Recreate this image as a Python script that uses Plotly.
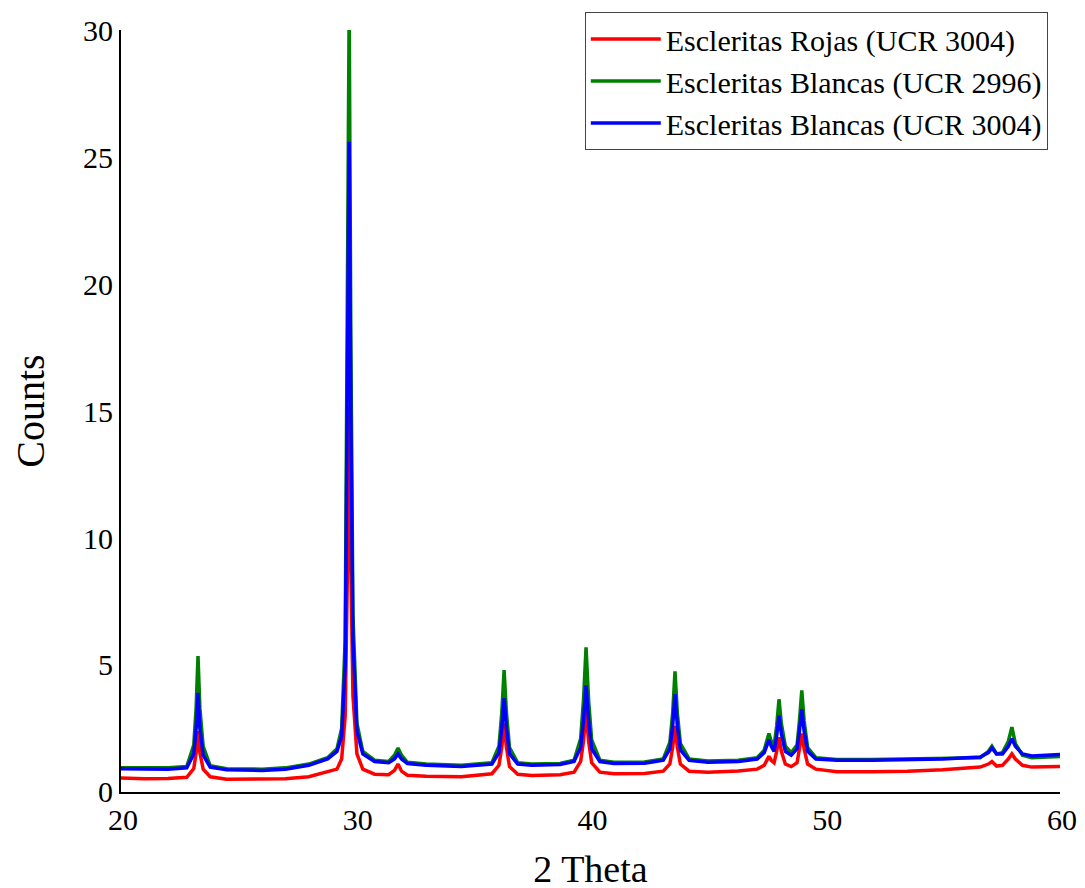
import plotly.graph_objects as go

# 2-theta positions (degrees)
two_theta = [20.0, 21.0, 22.0, 22.8, 23.1, 23.2, 23.28, 23.36, 23.5, 23.8,
             24.5, 26.0, 27.0, 28.0, 28.8, 29.2, 29.4, 29.55, 29.65, 29.72,
             29.79, 29.88, 30.05, 30.3, 30.8, 31.4, 31.65, 31.8, 31.95, 32.2,
             33.0, 34.5, 35.8, 36.1, 36.22, 36.32, 36.42, 36.55, 36.9, 37.5,
             38.7, 39.3, 39.58, 39.7, 39.81, 39.92, 40.05, 40.4, 41.0, 42.3,
             43.1, 43.38, 43.5, 43.6, 43.7, 43.83, 44.2, 45.0, 46.3, 47.1,
             47.4, 47.52, 47.6, 47.7, 47.82, 47.93, 48.03, 48.13, 48.3, 48.55,
             48.8, 48.9, 49.0, 49.1, 49.25, 49.6, 50.5, 52.0, 53.5, 55.0,
             56.0, 56.6, 56.95, 57.1, 57.3, 57.55, 57.8, 57.95, 58.1, 58.4,
             58.8, 59.3, 60.0]

rojas_3004 = [0.55, 0.52, 0.53, 0.58, 0.92, 1.55, 2.40, 1.55, 0.90, 0.60,
              0.50, 0.50, 0.52, 0.60, 0.78, 0.90, 1.30, 3.00, 9.0, 15.2,
              9.0, 3.80, 1.50, 0.90, 0.70, 0.68, 0.85, 1.10, 0.82, 0.66,
              0.62, 0.60, 0.72, 1.05, 1.75, 2.70, 1.75, 1.00, 0.70, 0.65,
              0.68, 0.78, 1.20, 2.00, 3.20, 2.00, 1.15, 0.78, 0.72, 0.73,
              0.82, 1.10, 1.75, 2.60, 1.75, 1.10, 0.82, 0.78, 0.83, 0.90,
              1.05, 1.25, 1.40, 1.25, 1.15, 1.60, 2.15, 1.60, 1.10, 1.00,
              1.15, 1.70, 2.30, 1.70, 1.10, 0.90, 0.80, 0.80, 0.82, 0.88,
              0.95, 0.98, 1.10, 1.20, 1.02, 1.05, 1.30, 1.50, 1.30, 1.05,
              0.98, 0.98, 1.00]

blancas_2996 = [0.95, 0.95, 0.95, 1.00, 1.85, 3.30, 5.35, 3.30, 1.80, 1.03,
                0.92, 0.90, 0.95, 1.10, 1.35, 1.70, 2.50, 6.00, 19.0, 31.0,
                18.0, 7.00, 2.70, 1.60, 1.25, 1.20, 1.45, 1.73, 1.45, 1.17,
                1.10, 1.05, 1.15, 1.80, 3.10, 4.80, 3.10, 1.75, 1.15, 1.10,
                1.12, 1.25, 2.10, 3.60, 5.70, 3.60, 2.05, 1.25, 1.17, 1.18,
                1.30, 1.95, 3.10, 4.75, 3.10, 1.90, 1.30, 1.22, 1.25, 1.35,
                1.65, 2.05, 2.30, 2.00, 1.80, 2.60, 3.65, 2.70, 1.80, 1.55,
                1.85, 2.80, 4.00, 2.80, 1.75, 1.35, 1.28, 1.28, 1.30, 1.32,
                1.35, 1.35, 1.60, 1.80, 1.50, 1.55, 2.00, 2.55, 1.90, 1.45,
                1.35, 1.38, 1.40]

blancas_3004 = [0.92, 0.90, 0.90, 0.95, 1.50, 2.50, 3.90, 2.50, 1.45, 0.98,
                0.88, 0.85, 0.90, 1.05, 1.30, 1.60, 2.20, 5.00, 16.0, 25.6,
                15.0, 6.00, 2.40, 1.50, 1.20, 1.15, 1.30, 1.50, 1.30, 1.12,
                1.05, 1.00, 1.10, 1.55, 2.50, 3.70, 2.50, 1.50, 1.10, 1.05,
                1.08, 1.20, 1.75, 2.80, 4.20, 2.80, 1.70, 1.20, 1.12, 1.13,
                1.25, 1.70, 2.60, 3.85, 2.60, 1.65, 1.25, 1.17, 1.20, 1.30,
                1.55, 1.85, 2.05, 1.80, 1.60, 2.20, 3.00, 2.30, 1.60, 1.45,
                1.70, 2.40, 3.25, 2.40, 1.60, 1.30, 1.25, 1.25, 1.27, 1.30,
                1.35, 1.38, 1.55, 1.73, 1.50, 1.50, 1.80, 2.10, 1.80, 1.50,
                1.42, 1.45, 1.48]

series_names = ["Escleritas Rojas (UCR 3004)",
                "Escleritas Blancas (UCR 2996)",
                "Escleritas Blancas (UCR 3004)"]
series_values = [rojas_3004, blancas_2996, blancas_3004]
series_colors = ["#FF0000", "#008000", "#0000FF"]

x_ticks = [20, 30, 40, 50, 60]
y_ticks = [0, 5, 10, 15, 20, 25, 30]

FONT = "Liberation Serif, Times New Roman, serif"

fig = go.Figure()
for name, vals, col in zip(series_names, series_values, series_colors):
    fig.add_trace(go.Scatter(x=two_theta, y=vals, mode="lines", name=name,
                             line=dict(color=col, width=3.5)))

fig.update_layout(
    width=1085, height=888,
    margin=dict(l=113, r=33, t=2, b=104),
    paper_bgcolor="white", plot_bgcolor="white",
    font=dict(family=FONT, color="black", size=30),
    showlegend=True,
    legend=dict(x=0.987, y=0.9974, xanchor="right", yanchor="top",
                bgcolor="white", bordercolor="#444444", borderwidth=1,
                font=dict(family=FONT, size=30, color="black"),
                itemwidth=70, tracegroupgap=0),
)
fig.update_xaxes(range=[20, 60], tickvals=x_ticks, ticks="", showgrid=False,
                 zeroline=False, showline=True, linecolor="black", linewidth=2,
                 automargin=False, ticklabelshift=2,
                 tickfont=dict(family=FONT, size=30),
                 title=dict(text="2 Theta", font=dict(family=FONT, size=38), standoff=20))
fig.update_yaxes(range=[0, 30], domain=[0, 0.9744], tickvals=y_ticks, ticks="",
                 showgrid=False, zeroline=False, showline=True, linecolor="black",
                 linewidth=2, automargin=False,
                 tickfont=dict(family=FONT, size=30),
                 title=dict(text="Counts", font=dict(family=FONT, size=40), standoff=31))

fig.write_html("out.html")
